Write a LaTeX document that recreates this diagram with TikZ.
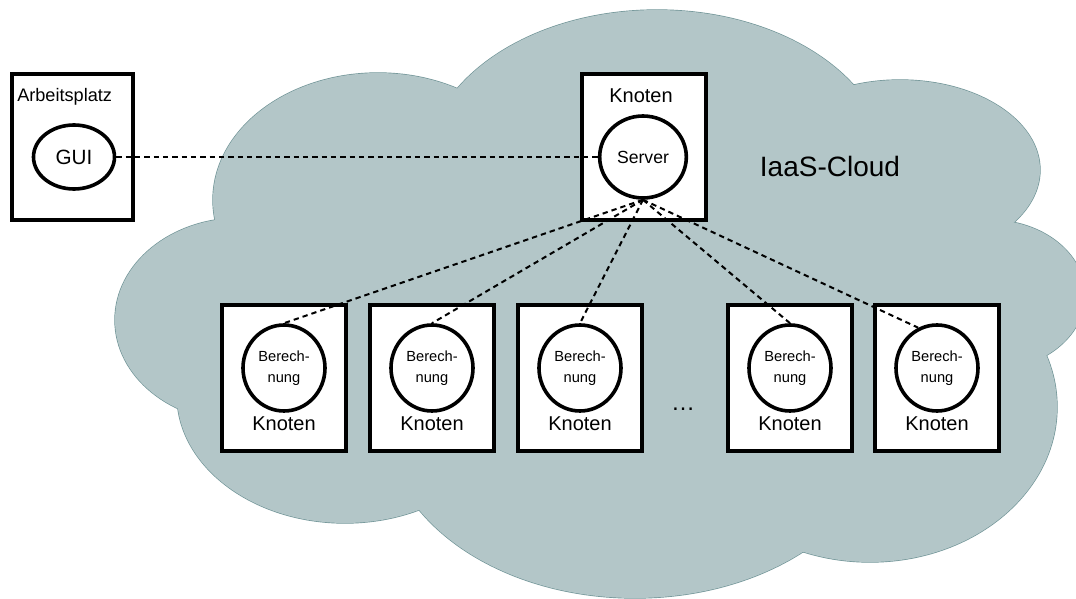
\documentclass[tikz,border=0pt]{standalone}
\usepackage{fontspec}
\setmainfont{Liberation Sans}
\usetikzlibrary{shapes.geometric}
\definecolor{cloudfill}{HTML}{B3C6C8}
\definecolor{cloudline}{HTML}{6F9396}
\tikzset{
  box/.style={draw, line width=3pt, fill=white, minimum width=93pt, minimum height=109.5pt, inner sep=0pt},
  proc/.style={ellipse, draw, line width=2.7pt, fill=white, inner sep=0pt, align=center},
  calc/.style={proc, minimum width=61.5pt, minimum height=64.5pt, font=\fontsize{11}{15.5}\selectfont},
  link/.style={line width=1.5pt, dash pattern=on 4pt off 3pt},
  lbl/.style={inner sep=0pt, font=\fontsize{15}{18}\selectfont}
}
\begin{document}
\begin{tikzpicture}[x=0.75pt,y=-0.75pt]
\useasboundingbox (0,0) rectangle (1076,599);
\clip (0,0) rectangle (1076,599);

% cloud: outline of all lobes first, then the fill hides the inner arcs
\def\lobes{378/200/165/127, 657/170/232/160, 900/170/140/90, 990/295/95/75,
  870/407/187/155, 635/420/250/178, 345/395/168/128, 240/320/125/102, 600/300/380/190}
\foreach \cx/\cy/\rx/\ry in \lobes
  \draw[cloudline, line width=1pt] (\cx,\cy) ellipse [x radius=\rx, y radius=\ry];
\foreach \cx/\cy/\rx/\ry in \lobes
  \fill[cloudfill] (\cx,\cy) ellipse [x radius=\rx, y radius=\ry];

\node[inner sep=0pt, font=\fontsize{21}{25}\selectfont] (cloudlbl) at (830,166) {IaaS-Cloud};

% workstation
\node[box, minimum width=90.75pt] (ws) at (72.5,147.5) {};
\node[inner sep=0pt, anchor=west, font=\fontsize{13.6}{16}\selectfont] (wslbl) at (17,97) {Arbeitsplatz};
\node[proc, minimum width=60.75pt, minimum height=48pt, font=\fontsize{15.5}{18}\selectfont] (gui) at (74,157) {GUI};

% server node
\node[box] (srvbox) at (644,147.5) {};
\node[lbl] (srvlbl) at (641,96) {Knoten};
\node[proc, minimum width=65pt, minimum height=61.5pt, font=\fontsize{13.2}{16}\selectfont] (srv) at (643,157) {Server};

% compute nodes
\foreach \i/\x in {1/284, 2/432, 3/580, 4/790, 5/937} {
  \node[box] (b\i) at (\x,378) {};
  \node[lbl] (k\i) at (\x,424) {Knoten};
  \node[calc] (c\i) at (\x,368) {Berech-\\nung};
}
\node[inner sep=0pt, font=\fontsize{18}{20}\selectfont] (dots) at (683,409) {\dots};

% connections
\draw[link] (gui.east) -- (srv.west);
\foreach \i in {1,2,3,4}
  \draw[link] (srv.south) -- (c\i.north);
\draw[link] (srv.south) -- (c5.115);
\end{tikzpicture}
\end{document}
